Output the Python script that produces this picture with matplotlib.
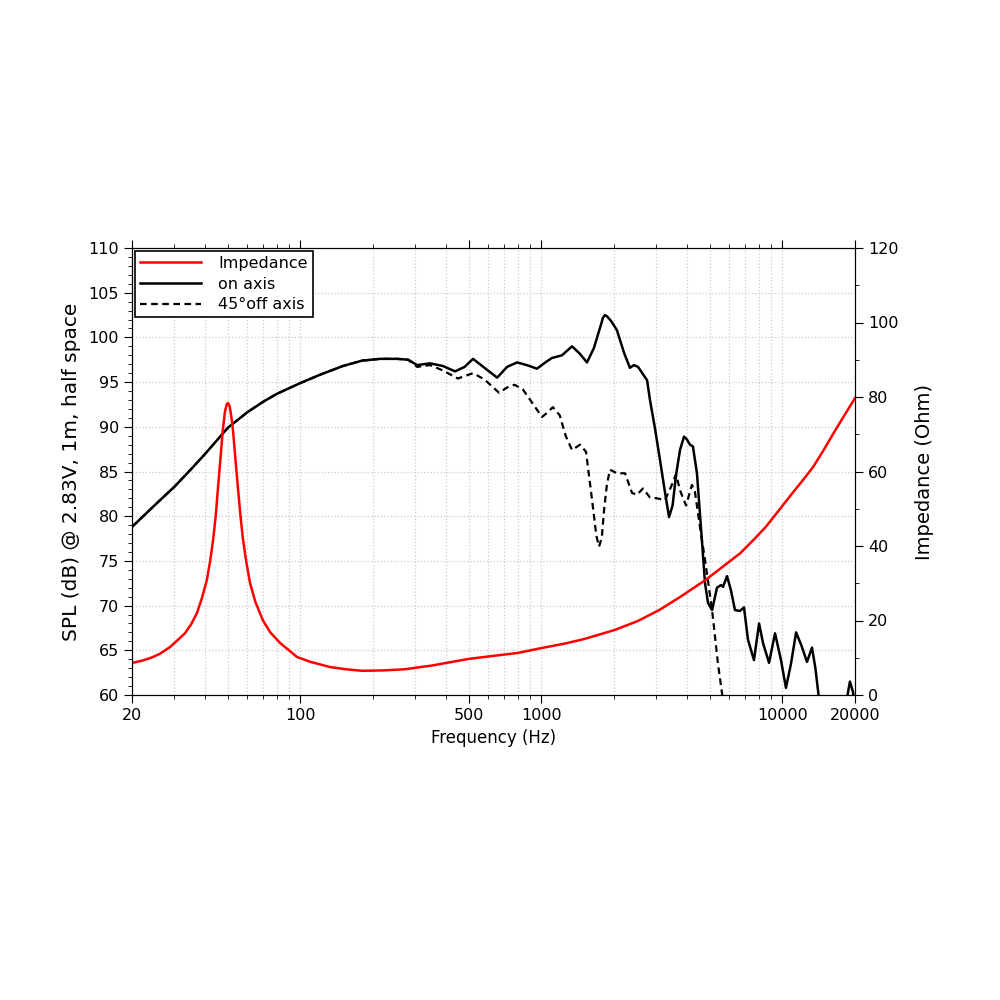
import numpy as np
import matplotlib
matplotlib.use("Agg")
import matplotlib.pyplot as plt
from matplotlib.ticker import FixedLocator, FixedFormatter, NullFormatter, LogLocator, MultipleLocator

# on-axis SPL (dB)
on_freq = [20, 25, 30, 35, 40, 50, 60, 70, 80, 100, 120, 150, 180, 214, 252, 280, 305, 345,
           390, 438, 480, 520, 580, 655, 720, 792, 870, 958, 1050, 1106, 1217, 1339, 1440,
           1545, 1650, 1760, 1800, 1835, 1880, 1950, 2057, 2200, 2328, 2420, 2518, 2744, 2820,
           2960, 3103, 3250, 3384, 3500, 3618, 3757, 3904, 4010, 4134, 4252, 4418, 4589, 4772,
           4911, 5106, 5350, 5560, 5668, 5888, 6115, 6353, 6665, 6924, 7193, 7618, 7998, 8307,
           8796, 9315, 9862, 10340, 10850, 11390, 12000, 12640, 13260, 13700, 14190, 15000,
           17500, 18350, 19050, 19640, 20000]
on_spl = [78.8, 81.3, 83.3, 85.2, 86.9, 89.9, 91.6, 92.8, 93.7, 94.9, 95.8, 96.8, 97.4, 97.6,
          97.6, 97.5, 96.9, 97.1, 96.8, 96.2, 96.7, 97.6, 96.6, 95.5, 96.7, 97.2, 96.9, 96.5,
          97.3, 97.7, 98.0, 99.0, 98.2, 97.2, 98.8, 101.3, 102.2, 102.5, 102.3, 101.8, 100.8,
          98.3, 96.6, 96.9, 96.7, 95.2, 93.0, 89.8, 86.3, 82.8, 79.9, 81.2, 84.6, 87.4, 88.9,
          88.6, 88.0, 87.8, 84.8, 78.8, 72.5, 70.3, 69.5, 72.0, 72.3, 72.1, 73.3, 71.7, 69.5,
          69.4, 69.8, 66.2, 63.9, 68.0, 65.8, 63.6, 66.9, 63.9, 60.8, 63.5, 67.0, 65.5, 63.7,
          65.3, 63.0, 59.5, 55.0, 55.0, 59.0, 61.5, 60.3, 57.0]

# 45 degree off-axis SPL (dB)
off_freq = [20, 25, 30, 35, 40, 50, 60, 70, 80, 100, 120, 150, 180, 214, 252, 280, 305, 345,
            390, 450, 520, 580, 667, 720, 773, 836, 920, 1005, 1060, 1115, 1190, 1260, 1339,
            1446, 1531, 1622, 1690, 1734, 1780, 1819, 1870, 1925, 2057, 2222, 2376, 2491,
            2638, 2820, 3015, 3256, 3450, 3618, 3757, 3980, 4213, 4336, 4546, 4772, 5106,
            5400, 5614, 6000]
off_spl = [78.8, 81.3, 83.3, 85.2, 86.9, 89.9, 91.6, 92.8, 93.7, 94.9, 95.8, 96.8, 97.4, 97.6,
           97.6, 97.5, 96.7, 96.9, 96.3, 95.4, 96.0, 95.3, 93.8, 94.4, 94.7, 94.2, 92.6, 91.1,
           91.6, 92.2, 91.3, 89.0, 87.4, 88.0, 87.2, 81.8, 77.8, 76.6, 77.6, 80.7, 83.6, 85.2,
           84.8, 84.8, 82.6, 82.4, 83.1, 82.1, 82.0, 81.8, 83.3, 84.7, 82.9, 81.2, 83.5, 82.7,
           78.8, 75.1, 69.5, 63.5, 60.2, 55.0]

# impedance (Ohm)
imp_freq = [20, 22, 24, 26, 28.8, 31, 33.2, 35.2, 37.2, 39, 40.9, 42.2, 43.4, 44.5, 45.5, 46.5,
            47.6, 48.6, 49.4, 50, 50.8, 51.6, 52.5, 53.7, 55, 56.3, 57.6, 59.5, 61.8, 65, 69.9,
            75, 82.2, 90, 96.8, 110, 132.7, 155, 180, 220, 270, 350, 500, 650, 800, 1000, 1250,
            1500, 2000, 2500, 3080, 3800, 4800, 5800, 6690, 7600, 8520, 9700, 11000, 12200,
            13400, 14800, 16300, 18000, 20000]
imp_ohm = [8.6, 9.2, 10.0, 11.0, 12.9, 14.8, 16.6, 19.0, 22.0, 26.0, 30.9, 36.0, 41.6, 48.0,
           55.8, 63.0, 71.0, 76.0, 78.0, 78.4, 77.6, 75.0, 71.0, 63.5, 55.8, 48.5, 42.4, 36.0,
           30.0, 25.0, 20.0, 16.8, 14.0, 11.9, 10.2, 8.9, 7.5, 6.9, 6.5, 6.6, 6.9, 7.9, 9.7,
           10.6, 11.3, 12.6, 13.8, 15.0, 17.4, 19.8, 22.8, 26.5, 30.9, 35.0, 38.1, 41.7, 45.1,
           49.7, 54.2, 57.8, 61.2, 65.7, 70.3, 74.9, 79.7]

xticks = [20, 100, 500, 1000, 10000, 20000]

plt.rcParams['font.family'] = ['DejaVu Sans']
fig = plt.figure(figsize=(10, 10), dpi=100)
ax = fig.add_axes([0.132, 0.305, 0.723, 0.447])

l_on, = ax.plot(on_freq, on_spl, color='black', lw=1.8, label='on axis')
l_off, = ax.plot(off_freq, off_spl, color='black', lw=1.6, ls=(0, (3, 2)), label='45°off axis')
ax.set_xscale('log')
ax.set_xlim(20, 20000)
ax.set_ylim(60, 110)
ax.xaxis.set_major_locator(FixedLocator(xticks))
ax.xaxis.set_major_formatter(FixedFormatter([str(t) for t in xticks]))
ax.xaxis.set_minor_locator(LogLocator(base=10, subs=np.arange(1, 10)))
ax.xaxis.set_minor_formatter(NullFormatter())
ax.yaxis.set_major_locator(MultipleLocator(5))
ax.yaxis.set_minor_locator(MultipleLocator(1))
ax.tick_params(axis='both', which='both', direction='out', top=True, labelsize=11.5)
ax.tick_params(axis='both', which='major', length=6)
ax.tick_params(axis='both', which='minor', length=3)
ax.grid(True, which='both', axis='x', color='#cccccc', ls=':', lw=0.9)
ax.grid(True, which='major', axis='y', color='#cccccc', ls=':', lw=0.9)
ax.set_xlabel('Frequency (Hz)', fontsize=12)
ax.set_ylabel('SPL (dB) @ 2.83V, 1m, half space', fontsize=14.5, labelpad=5)

ax2 = ax.twinx()
l_imp, = ax2.plot(imp_freq, imp_ohm, color='red', lw=1.8, label='Impedance')
ax2.set_ylim(0, 120)
ax2.yaxis.set_major_locator(MultipleLocator(20))
ax2.yaxis.set_minor_locator(MultipleLocator(10))
ax2.tick_params(axis='y', which='both', direction='out', labelsize=11.5)
ax2.tick_params(axis='y', which='major', length=6)
ax2.tick_params(axis='y', which='minor', length=3)
ax2.set_ylabel('Impedance (Ohm)', fontsize=14, labelpad=12)

leg = ax2.legend(handles=[l_imp, l_on, l_off], loc='upper left', fontsize=11.5,
                 fancybox=False, framealpha=1, edgecolor='black', borderaxespad=0.2,
                 handlelength=3.8, labelspacing=0.35, borderpad=0.3, handletextpad=1.1)
leg.get_frame().set_linewidth(1.2)

fig.savefig('out.png', dpi=100, facecolor='white')
